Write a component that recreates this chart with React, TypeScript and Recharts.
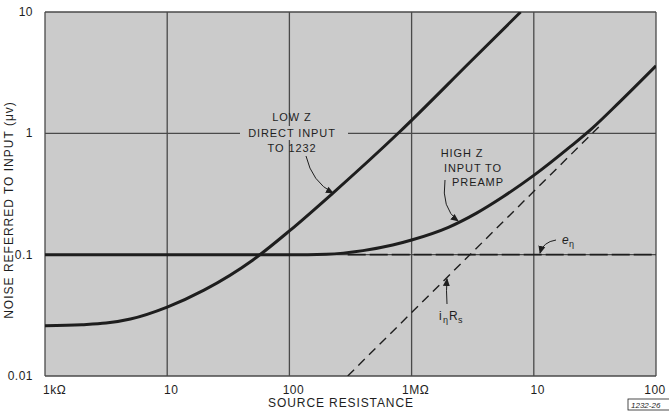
import React from "react";
import { LineChart, Line, XAxis, YAxis, CartesianGrid } from "recharts";

// source resistance (ohms) vs noise (microvolts)
const lowZR = [1e3, 2e3, 3.16e3, 5e3, 1e4, 2e4, 5e4, 1e5, 2.27e5, 8e5, 3e6, 7.8e6];
const lowZV = [0.026, 0.0265, 0.0273, 0.0295, 0.037, 0.051, 0.09, 0.157, 0.322, 1.03, 3.85, 10];

const highZR = [1e3, 1e4, 1e5, 2e5, 4e5, 7e5, 1e6, 2e6, 3.4e6, 5.6e6, 1e7, 2e7, 3e7, 5e7, 1e8];
const highZV = [0.1, 0.1, 0.1, 0.101, 0.108, 0.12, 0.132, 0.168, 0.22, 0.3, 0.45, 0.78, 1.1, 1.8, 3.6];

const enR = [3e5, 1e8];
const enV = [0.1, 0.1];

const inRsR = [3e5, 3.4e7];
const inRsV = [0.01, 1.13];

const xTicks = [1e3, 1e4, 1e5, 1e6, 1e7, 1e8];
const xTickLabels = ["1kΩ", "10", "100", "1MΩ", "10", "100"];
const yTicks = [0.01, 0.1, 1, 10];
const yTickLabels = ["0.01", "0.1", "1", "10"];

const toRows = (r: number[], v: number[]) => r.map((x, i) => ({ r: x, v: v[i] }));

const FONT = "'Liberation Sans', Arial, sans-serif";
const INK = "#1e1e1e";

const XTick = (props: any) => {
  const { x, y, payload, index } = props;
  const i = xTicks.indexOf(payload.value);
  const last = i === xTicks.length - 1;
  return (
    <text
      x={index === 0 ? x - 2 : last ? x - 1 : x + 4}
      y={y + 10}
      textAnchor={index === 0 ? "start" : "middle"}
      fontSize={12}
      fontFamily={FONT}
      fill={INK}
      letterSpacing={0.5}
    >
      {xTickLabels[i]}
    </text>
  );
};

const YTick = (props: any) => {
  const { x, y, payload } = props;
  const i = yTicks.indexOf(payload.value);
  return (
    <text x={x - 4} y={y + 4} textAnchor="end" fontSize={12} fontFamily={FONT} fill={INK} letterSpacing={0.5}>
      {yTickLabels[i]}
    </text>
  );
};

const W = 669;
const H = 411;
const BG = "#cbcbcb";

export default function App() {
  return (
    <div style={{ position: "absolute", left: 0, top: 0, width: W, height: H, background: "#fff" }}>
      <LineChart width={W} height={H} margin={{ top: 12, right: 13, left: 0, bottom: 0 }}>
        <CartesianGrid fill={BG} stroke="#4a4a4a" strokeWidth={1.3} />
        <XAxis
          dataKey="r"
          type="number"
          scale="log"
          domain={[1e3, 1e8]}
          ticks={xTicks}
          allowDataOverflow
          axisLine={false}
          tickLine={false}
          height={35}
          tick={<XTick />}
          interval={0}
        />
        <YAxis
          type="number"
          scale="log"
          domain={[0.01, 10]}
          ticks={yTicks}
          allowDataOverflow
          axisLine={false}
          tickLine={false}
          width={45}
          tick={<YTick />}
          interval={0}
        />
        <Line data={toRows(enR, enV)} dataKey="v" stroke={INK} strokeWidth={1.8} strokeDasharray="18 4" dot={false} isAnimationActive={false} />
        <Line data={toRows(inRsR, inRsV)} dataKey="v" stroke={INK} strokeWidth={1.4} strokeDasharray="9 6" dot={false} isAnimationActive={false} />
        <Line data={toRows(highZR, highZV)} dataKey="v" type="monotone" stroke={INK} strokeWidth={3} dot={false} isAnimationActive={false} />
        <Line data={toRows(lowZR, lowZV)} dataKey="v" type="monotone" stroke={INK} strokeWidth={3} dot={false} isAnimationActive={false} />
      </LineChart>
      <svg width={W} height={H} style={{ position: "absolute", left: 0, top: 0, pointerEvents: "none" }}>
        <defs>
          <marker id="ah" markerWidth="8" markerHeight="8" refX="7" refY="4" orient="auto" markerUnits="userSpaceOnUse">
            <path d="M0,0.5 L8,4 L0,7.5 Z" fill={INK} />
          </marker>
        </defs>
        <g fontFamily={FONT} fill={INK} fontSize={11} letterSpacing={0.9}>
          <rect x={240} y={126} width={108} height={14} fill={BG} />
          <text x={292} y={121} textAnchor="middle">LOW Z</text>
          <text x={292} y={137} textAnchor="middle">DIRECT INPUT</text>
          <text x={292} y={152} textAnchor="middle">TO 1232</text>
          <text x={462} y={157} textAnchor="middle">HIGH Z</text>
          <text x={473} y={172} textAnchor="middle">INPUT TO</text>
          <text x={478} y={186} textAnchor="middle">PREAMP</text>
        </g>
        <g fontFamily={FONT} fill={INK} letterSpacing={0}>
          <text x={562} y={244} fontStyle="italic" fontSize={12}>e</text>
          <text x={569} y={247} fontSize={9}>η</text>
          <text x={439} y={320} fontSize={12}>i</text>
          <text x={443} y={323} fontSize={9}>η</text>
          <text x={449} y={320} fontSize={12}>R</text>
          <text x={458} y={323} fontSize={9}>s</text>
        </g>
        <g fill="none" stroke={INK} strokeWidth={1}>
          <path d="M306,156 Q312,182 333,193" markerEnd="url(#ah)" />
          <path d="M445,180 Q441,208 458,221" markerEnd="url(#ah)" />
          <path d="M556,240 Q543,242 540,253" markerEnd="url(#ah)" />
          <path d="M447,304 Q446,290 447,279" markerEnd="url(#ah)" />
        </g>
        <text
          transform="translate(13,210) rotate(-90)"
          textAnchor="middle"
          fontFamily={FONT}
          fontSize={12}
          letterSpacing={1}
          fill={INK}
        >
          NOISE REFERRED TO INPUT (μv)
        </text>
        <text x={341} y={407} textAnchor="middle" fontFamily={FONT} fontSize={12} letterSpacing={0.9} fill={INK}>
          SOURCE RESISTANCE
        </text>
        <rect x={628} y={399} width={44} height={11} fill="none" stroke={INK} strokeWidth={0.8} />
        <text x={631} y={408} fontFamily={FONT} fontSize={8} fontStyle="italic" fill={INK}>1232-26</text>
      </svg>
    </div>
  );
}
